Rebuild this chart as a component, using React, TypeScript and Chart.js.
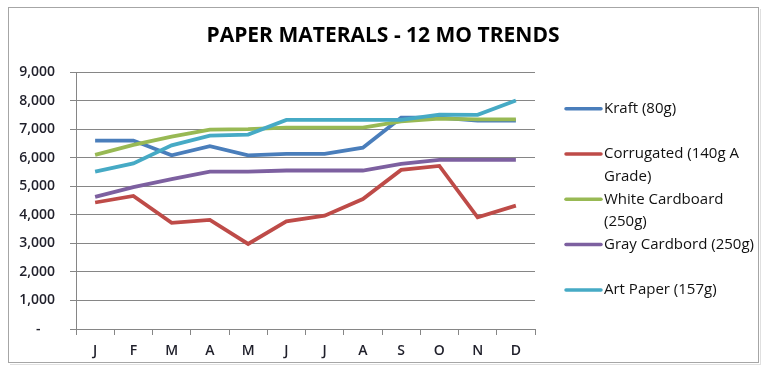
import React, { useEffect, useRef } from 'react';
import { Chart, registerables } from 'chart.js';

Chart.register(...registerables);

const chartTitle = 'PAPER MATERALS - 12 MO TRENDS';
const months = ['J', 'F', 'M', 'A', 'M', 'J', 'J', 'A', 'S', 'O', 'N', 'D'];
const kraft = [6600, 6600, 6080, 6400, 6080, 6130, 6130, 6350, 7400, 7400, 7300, 7300];
const corrugated = [4430, 4660, 3720, 3820, 2980, 3770, 3970, 4550, 5570, 5710, 3910, 4320];
const whiteCardboard = [6100, 6450, 6740, 6980, 7000, 7050, 7050, 7050, 7270, 7370, 7340, 7340];
const grayCardboard = [4630, 4970, 5250, 5510, 5510, 5550, 5550, 5550, 5780, 5920, 5920, 5920];
const artPaper = [5510, 5800, 6430, 6770, 6810, 7320, 7320, 7320, 7320, 7510, 7500, 8000];
const seriesLabels = [
  'Kraft (80g)',
  'Corrugated (140g A\nGrade)',
  'White Cardboard\n(250g)',
  'Gray Cardbord (250g)',
  'Art Paper (157g)',
];
const seriesColors = ['#4A7EBB', '#BE4B48', '#98B954', '#7D60A0', '#46AAC5'];
const seriesData = [kraft, corrugated, whiteCardboard, grayCardboard, artPaper];
const yMin = 0;
const yMax = 9000;
const yStep = 1000;

const FONT = '"Open Sans", "Liberation Sans", sans-serif';

const decorPlugin = {
  id: 'decor',
  beforeDraw(chart: any) {
    const ctx = chart.ctx;
    ctx.save();
    ctx.fillStyle = '#ffffff';
    ctx.fillRect(0, 0, chart.width, chart.height);
    ctx.strokeStyle = '#a6a6a6';
    ctx.lineWidth = 1;
    ctx.strokeRect(8.5, 7.5, 750, 355);
    ctx.strokeStyle = 'rgba(0,0,0,0.12)';
    ctx.beginPath();
    ctx.moveTo(760.5, 9);
    ctx.lineTo(760.5, 364.5);
    ctx.lineTo(10, 364.5);
    ctx.stroke();
    ctx.restore();
  },
  afterDraw(chart: any) {
    const ctx = chart.ctx;
    ctx.save();
    ctx.fillStyle = '#000000';
    ctx.font = `bold 21px ${FONT}`;
    ctx.textAlign = 'center';
    ctx.textBaseline = 'middle';
    ctx.fillText(chartTitle, 383, 36);
    ctx.font = `500 15px ${FONT}`;
    ctx.textAlign = 'left';
    chart.data.datasets.forEach((ds: any, i: number) => {
      const y0 = 108.7 + i * 45.3;
      ctx.strokeStyle = ds.borderColor;
      ctx.lineWidth = 3.5;
      ctx.lineCap = 'round';
      ctx.beginPath();
      ctx.moveTo(566, y0);
      ctx.lineTo(601, y0);
      ctx.stroke();
      ctx.fillStyle = '#111111';
      String(ds.label).split('\n').forEach((line: string, j: number) => {
        ctx.fillText(line, 604, y0 + j * 22.7);
      });
    });
    ctx.restore();
  },
};

export default function App() {
  const ref = useRef<HTMLCanvasElement | null>(null);
  useEffect(() => {
    if (!ref.current) return;
    const chart = new Chart(ref.current, {
      type: 'line',
      data: {
        labels: months,
        datasets: seriesData.map((d, i) => ({
          label: seriesLabels[i],
          data: d,
          borderColor: seriesColors[i],
          backgroundColor: seriesColors[i],
          borderWidth: 3.8,
          pointRadius: 0,
          tension: 0,
          fill: false,
          order: seriesData.length - i,
        })),
      },
      options: {
        responsive: false,
        animation: false,
        devicePixelRatio: 1,
        layout: { padding: { left: 0, top: 72, right: 233, bottom: 0 } },
        plugins: {
          legend: { display: false },
          title: { display: false },
          tooltip: { enabled: false },
        },
        scales: {
          x: {
            offset: true,
            grid: {
              offset: true,
              drawOnChartArea: false,
              drawTicks: true,
              tickLength: 6,
              color: '#868686',
            },
            border: { display: true, color: '#868686', width: 1 },
            ticks: {
              color: '#1f1f2a',
              font: { family: FONT, size: 14, weight: '600' },
              padding: 8,
              maxRotation: 0,
              autoSkip: false,
            },
            afterFit: (s: any) => {
              s.height = 44;
            },
          },
          y: {
            min: yMin,
            max: yMax,
            grid: { color: '#868686', tickLength: 6, drawTicks: true },
            border: { display: true, color: '#868686', width: 1 },
            ticks: {
              stepSize: yStep,
              color: '#1f1f2a',
              font: { family: FONT, size: 14, weight: '600' },
              padding: 15,
              callback: (v: any) => (Number(v) === 0 ? '-    ' : Number(v).toLocaleString('en-US')),
            },
            afterFit: (s: any) => {
              s.width = 76;
            },
          },
        },
      },
      plugins: [decorPlugin],
    });
    return () => chart.destroy();
  }, []);
  return (
    <div style={{ position: 'fixed', left: 0, top: 0, width: 768, height: 373, background: '#fff' }}>
      <canvas ref={ref} width={768} height={373} style={{ display: 'block' }} />
    </div>
  );
}
